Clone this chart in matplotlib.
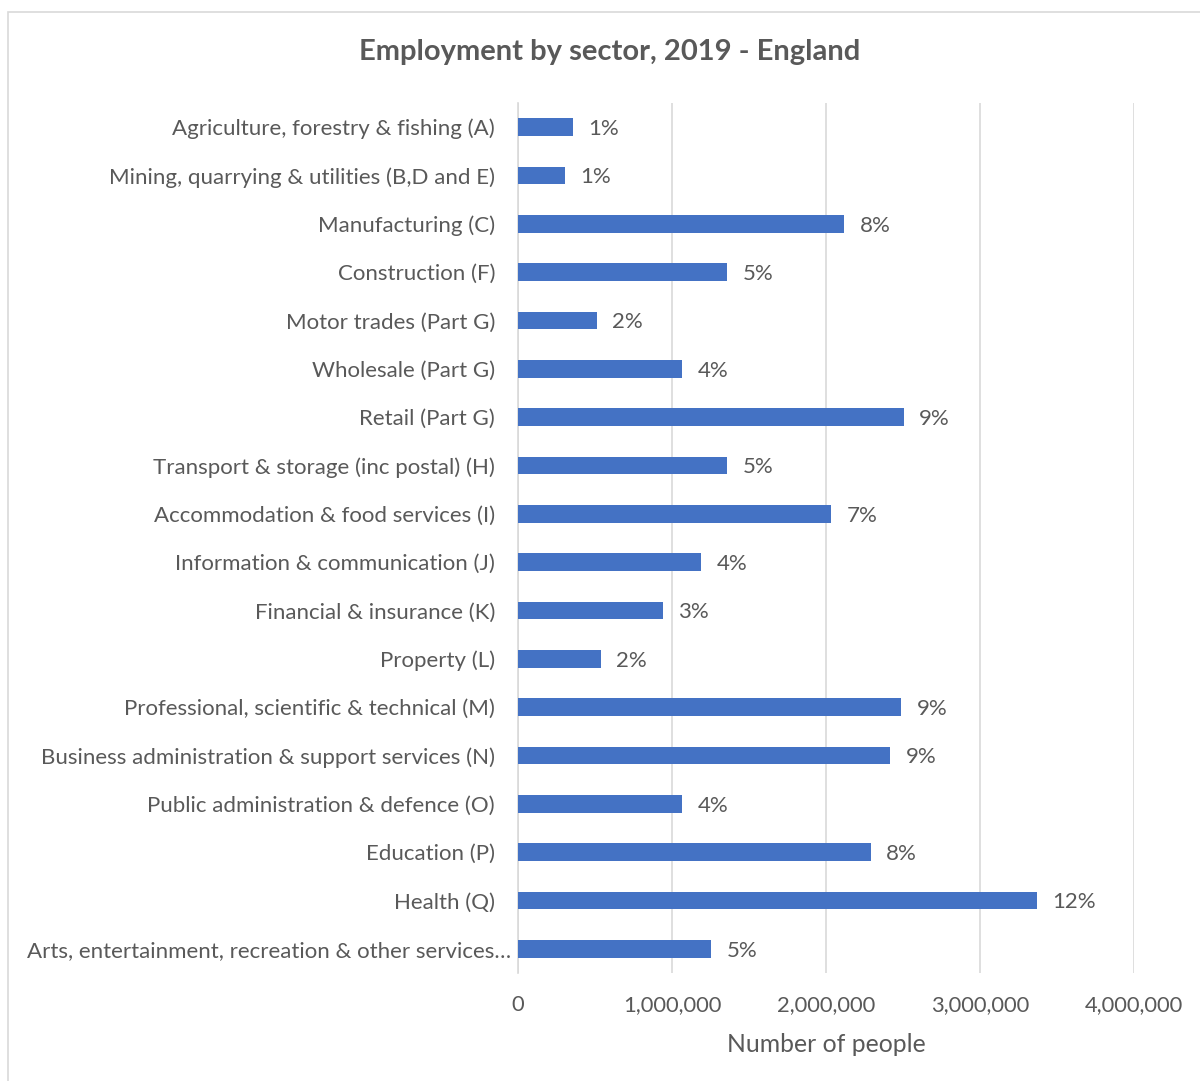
import matplotlib.pyplot as plt
import matplotlib.patches as patches
import matplotlib.transforms as mtransforms
from matplotlib.ticker import FuncFormatter

# Employment by sector in England, 2019
sectors = [
    "Agriculture, forestry & fishing (A)",
    "Mining, quarrying & utilities (B,D and E)",
    "Manufacturing (C)",
    "Construction (F)",
    "Motor trades (Part G)",
    "Wholesale (Part G)",
    "Retail (Part G)",
    "Transport & storage (inc postal) (H)",
    "Accommodation & food services (I)",
    "Information & communication (J)",
    "Financial & insurance (K)",
    "Property (L)",
    "Professional, scientific & technical (M)",
    "Business administration & support services (N)",
    "Public administration & defence (O)",
    "Education (P)",
    "Health (Q)",
    "Arts, entertainment, recreation & other services\u2026",
]
people = [357000, 305000, 2117000, 1357000, 513000, 1065000, 2506000, 1357000,
          2032000, 1188000, 942000, 539000, 2487000, 2416000, 1065000, 2292000,
          3370000, 1253000]
share_labels = ["1%", "1%", "8%", "5%", "2%", "4%", "9%", "5%", "7%", "4%",
                "3%", "2%", "9%", "9%", "4%", "8%", "12%", "5%"]

plt.rcParams['font.family'] = ['Lato', 'DejaVu Sans']
grey = '#595959'

fig = plt.figure(figsize=(12, 10.81), dpi=100)
ax = fig.add_axes([518 / 1200, 1 - 973 / 1081, (1134 - 518) / 1200, (973 - 103) / 1081])

# outer chart frame
fig.patches.append(patches.Rectangle((7.5 / 1200, -0.01), 1.2, 1 - 11.5 / 1081 + 0.01,
                                     transform=fig.transFigure, fill=False,
                                     edgecolor='#d9d9d9', linewidth=1.2))

y = list(range(len(sectors)))
ax.barh(y, people, height=0.36, color='#4472c4', zorder=3)
for yi, v, lab in zip(y, people, share_labels):
    ax.text(v + 100000, yi + 0.04, lab, va='center', ha='left', fontsize=16, color=grey)

ax.set_xlim(0, 4000000)
ax.set_ylim(len(sectors) - 0.5, -0.5)
ax.set_yticks(y)
ax.set_yticklabels(sectors, fontsize=16, color=grey)
ax.set_xticks([0, 1000000, 2000000, 3000000, 4000000])
ax.xaxis.set_major_formatter(FuncFormatter(lambda v, p: f"{int(v):,}"))
ax.tick_params(axis='x', labelsize=15.8, colors=grey, length=0, pad=16)
ax.tick_params(axis='y', length=0, pad=16.5)
ax.grid(axis='x', color='#d9d9d9', linewidth=1.2, zorder=0)
for s in ['top', 'right', 'bottom']:
    ax.spines[s].set_visible(False)
ax.spines['left'].set_color('#d9d9d9')
ax.spines['left'].set_linewidth(1.2)

# the truncated last label sits a little further right
last = ax.get_yticklabels()[-1]
last.set_transform(last.get_transform() +
                   mtransforms.ScaledTranslation(16 / 100, 0, fig.dpi_scale_trans))

ax.set_xlabel("Number of people", fontsize=17.8, color=grey, labelpad=13)
fig.text(610 / 1200, 1 - 52 / 1081, "Employment by sector, 2019 - England",
         ha='center', va='center', fontsize=21, fontweight='bold', color=grey)

fig.savefig("out.png", dpi=100)
